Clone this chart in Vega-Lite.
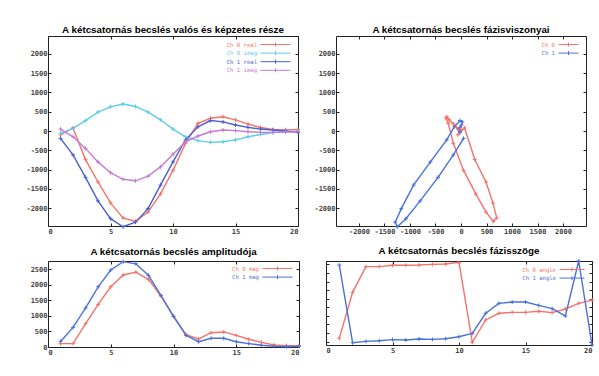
{
  "$schema": "https://vega.github.io/schema/vega-lite/v6.json",
  "padding": {"left": 25, "top": 24, "right": 5, "bottom": 5},
  "background": "white",
  "datasets": {
    "ri": [
      {"i": 1, "ch": "Ch 0", "part": "real", "series": "Ch 0 real", "value": -100},
      {"i": 2, "ch": "Ch 0", "part": "real", "series": "Ch 0 real", "value": 80},
      {"i": 3, "ch": "Ch 0", "part": "real", "series": "Ch 0 real", "value": -740},
      {"i": 4, "ch": "Ch 0", "part": "real", "series": "Ch 0 real", "value": -1320},
      {"i": 5, "ch": "Ch 0", "part": "real", "series": "Ch 0 real", "value": -1860},
      {"i": 6, "ch": "Ch 0", "part": "real", "series": "Ch 0 real", "value": -2250},
      {"i": 7, "ch": "Ch 0", "part": "real", "series": "Ch 0 real", "value": -2340},
      {"i": 8, "ch": "Ch 0", "part": "real", "series": "Ch 0 real", "value": -2100},
      {"i": 9, "ch": "Ch 0", "part": "real", "series": "Ch 0 real", "value": -1630},
      {"i": 10, "ch": "Ch 0", "part": "real", "series": "Ch 0 real", "value": -1020},
      {"i": 11, "ch": "Ch 0", "part": "real", "series": "Ch 0 real", "value": -320},
      {"i": 12, "ch": "Ch 0", "part": "real", "series": "Ch 0 real", "value": 200},
      {"i": 13, "ch": "Ch 0", "part": "real", "series": "Ch 0 real", "value": 330},
      {"i": 14, "ch": "Ch 0", "part": "real", "series": "Ch 0 real", "value": 370},
      {"i": 15, "ch": "Ch 0", "part": "real", "series": "Ch 0 real", "value": 290},
      {"i": 16, "ch": "Ch 0", "part": "real", "series": "Ch 0 real", "value": 180},
      {"i": 17, "ch": "Ch 0", "part": "real", "series": "Ch 0 real", "value": 90},
      {"i": 18, "ch": "Ch 0", "part": "real", "series": "Ch 0 real", "value": 40},
      {"i": 19, "ch": "Ch 0", "part": "real", "series": "Ch 0 real", "value": 30},
      {"i": 20, "ch": "Ch 0", "part": "real", "series": "Ch 0 real", "value": 40},
      {"i": 1, "ch": "Ch 0", "part": "imag", "series": "Ch 0 imag", "value": -60},
      {"i": 2, "ch": "Ch 0", "part": "imag", "series": "Ch 0 imag", "value": 70},
      {"i": 3, "ch": "Ch 0", "part": "imag", "series": "Ch 0 imag", "value": 270},
      {"i": 4, "ch": "Ch 0", "part": "imag", "series": "Ch 0 imag", "value": 490},
      {"i": 5, "ch": "Ch 0", "part": "imag", "series": "Ch 0 imag", "value": 625},
      {"i": 6, "ch": "Ch 0", "part": "imag", "series": "Ch 0 imag", "value": 700},
      {"i": 7, "ch": "Ch 0", "part": "imag", "series": "Ch 0 imag", "value": 635},
      {"i": 8, "ch": "Ch 0", "part": "imag", "series": "Ch 0 imag", "value": 490},
      {"i": 9, "ch": "Ch 0", "part": "imag", "series": "Ch 0 imag", "value": 290},
      {"i": 10, "ch": "Ch 0", "part": "imag", "series": "Ch 0 imag", "value": 50},
      {"i": 11, "ch": "Ch 0", "part": "imag", "series": "Ch 0 imag", "value": -150},
      {"i": 12, "ch": "Ch 0", "part": "imag", "series": "Ch 0 imag", "value": -250},
      {"i": 13, "ch": "Ch 0", "part": "imag", "series": "Ch 0 imag", "value": -295},
      {"i": 14, "ch": "Ch 0", "part": "imag", "series": "Ch 0 imag", "value": -280},
      {"i": 15, "ch": "Ch 0", "part": "imag", "series": "Ch 0 imag", "value": -230},
      {"i": 16, "ch": "Ch 0", "part": "imag", "series": "Ch 0 imag", "value": -150},
      {"i": 17, "ch": "Ch 0", "part": "imag", "series": "Ch 0 imag", "value": -90},
      {"i": 18, "ch": "Ch 0", "part": "imag", "series": "Ch 0 imag", "value": -40},
      {"i": 19, "ch": "Ch 0", "part": "imag", "series": "Ch 0 imag", "value": -20},
      {"i": 20, "ch": "Ch 0", "part": "imag", "series": "Ch 0 imag", "value": 0},
      {"i": 1, "ch": "Ch 1", "part": "real", "series": "Ch 1 real", "value": -190},
      {"i": 2, "ch": "Ch 1", "part": "real", "series": "Ch 1 real", "value": -620},
      {"i": 3, "ch": "Ch 1", "part": "real", "series": "Ch 1 real", "value": -1200},
      {"i": 4, "ch": "Ch 1", "part": "real", "series": "Ch 1 real", "value": -1810},
      {"i": 5, "ch": "Ch 1", "part": "real", "series": "Ch 1 real", "value": -2270},
      {"i": 6, "ch": "Ch 1", "part": "real", "series": "Ch 1 real", "value": -2480},
      {"i": 7, "ch": "Ch 1", "part": "real", "series": "Ch 1 real", "value": -2360},
      {"i": 8, "ch": "Ch 1", "part": "real", "series": "Ch 1 real", "value": -2010},
      {"i": 9, "ch": "Ch 1", "part": "real", "series": "Ch 1 real", "value": -1400},
      {"i": 10, "ch": "Ch 1", "part": "real", "series": "Ch 1 real", "value": -800},
      {"i": 11, "ch": "Ch 1", "part": "real", "series": "Ch 1 real", "value": -230},
      {"i": 12, "ch": "Ch 1", "part": "real", "series": "Ch 1 real", "value": 110},
      {"i": 13, "ch": "Ch 1", "part": "real", "series": "Ch 1 real", "value": 270},
      {"i": 14, "ch": "Ch 1", "part": "real", "series": "Ch 1 real", "value": 235},
      {"i": 15, "ch": "Ch 1", "part": "real", "series": "Ch 1 real", "value": 155},
      {"i": 16, "ch": "Ch 1", "part": "real", "series": "Ch 1 real", "value": 95},
      {"i": 17, "ch": "Ch 1", "part": "real", "series": "Ch 1 real", "value": 50},
      {"i": 18, "ch": "Ch 1", "part": "real", "series": "Ch 1 real", "value": 25},
      {"i": 19, "ch": "Ch 1", "part": "real", "series": "Ch 1 real", "value": 0},
      {"i": 20, "ch": "Ch 1", "part": "real", "series": "Ch 1 real", "value": -35},
      {"i": 1, "ch": "Ch 1", "part": "imag", "series": "Ch 1 imag", "value": 50},
      {"i": 2, "ch": "Ch 1", "part": "imag", "series": "Ch 1 imag", "value": -150},
      {"i": 3, "ch": "Ch 1", "part": "imag", "series": "Ch 1 imag", "value": -450},
      {"i": 4, "ch": "Ch 1", "part": "imag", "series": "Ch 1 imag", "value": -800},
      {"i": 5, "ch": "Ch 1", "part": "imag", "series": "Ch 1 imag", "value": -1080},
      {"i": 6, "ch": "Ch 1", "part": "imag", "series": "Ch 1 imag", "value": -1250},
      {"i": 7, "ch": "Ch 1", "part": "imag", "series": "Ch 1 imag", "value": -1290},
      {"i": 8, "ch": "Ch 1", "part": "imag", "series": "Ch 1 imag", "value": -1170},
      {"i": 9, "ch": "Ch 1", "part": "imag", "series": "Ch 1 imag", "value": -930},
      {"i": 10, "ch": "Ch 1", "part": "imag", "series": "Ch 1 imag", "value": -600},
      {"i": 11, "ch": "Ch 1", "part": "imag", "series": "Ch 1 imag", "value": -280},
      {"i": 12, "ch": "Ch 1", "part": "imag", "series": "Ch 1 imag", "value": -130},
      {"i": 13, "ch": "Ch 1", "part": "imag", "series": "Ch 1 imag", "value": -20},
      {"i": 14, "ch": "Ch 1", "part": "imag", "series": "Ch 1 imag", "value": 25},
      {"i": 15, "ch": "Ch 1", "part": "imag", "series": "Ch 1 imag", "value": 10},
      {"i": 16, "ch": "Ch 1", "part": "imag", "series": "Ch 1 imag", "value": -20},
      {"i": 17, "ch": "Ch 1", "part": "imag", "series": "Ch 1 imag", "value": -35},
      {"i": 18, "ch": "Ch 1", "part": "imag", "series": "Ch 1 imag", "value": -35},
      {"i": 19, "ch": "Ch 1", "part": "imag", "series": "Ch 1 imag", "value": -25},
      {"i": 20, "ch": "Ch 1", "part": "imag", "series": "Ch 1 imag", "value": -20}
    ],
    "mag": [
      {"i": 1, "series": "Ch 0 mag", "value": 110}, {"i": 2, "series": "Ch 0 mag", "value": 110},
      {"i": 3, "series": "Ch 0 mag", "value": 750}, {"i": 4, "series": "Ch 0 mag", "value": 1370},
      {"i": 5, "series": "Ch 0 mag", "value": 1940}, {"i": 6, "series": "Ch 0 mag", "value": 2320},
      {"i": 7, "series": "Ch 0 mag", "value": 2410}, {"i": 8, "series": "Ch 0 mag", "value": 2180},
      {"i": 9, "series": "Ch 0 mag", "value": 1640}, {"i": 10, "series": "Ch 0 mag", "value": 990},
      {"i": 11, "series": "Ch 0 mag", "value": 400}, {"i": 12, "series": "Ch 0 mag", "value": 260},
      {"i": 13, "series": "Ch 0 mag", "value": 460}, {"i": 14, "series": "Ch 0 mag", "value": 485},
      {"i": 15, "series": "Ch 0 mag", "value": 375}, {"i": 16, "series": "Ch 0 mag", "value": 250},
      {"i": 17, "series": "Ch 0 mag", "value": 150}, {"i": 18, "series": "Ch 0 mag", "value": 65},
      {"i": 19, "series": "Ch 0 mag", "value": 45}, {"i": 20, "series": "Ch 0 mag", "value": 45},
      {"i": 1, "series": "Ch 1 mag", "value": 180}, {"i": 2, "series": "Ch 1 mag", "value": 630},
      {"i": 3, "series": "Ch 1 mag", "value": 1260}, {"i": 4, "series": "Ch 1 mag", "value": 1940},
      {"i": 5, "series": "Ch 1 mag", "value": 2480}, {"i": 6, "series": "Ch 1 mag", "value": 2750},
      {"i": 7, "series": "Ch 1 mag", "value": 2680}, {"i": 8, "series": "Ch 1 mag", "value": 2310},
      {"i": 9, "series": "Ch 1 mag", "value": 1660}, {"i": 10, "series": "Ch 1 mag", "value": 990},
      {"i": 11, "series": "Ch 1 mag", "value": 375}, {"i": 12, "series": "Ch 1 mag", "value": 170},
      {"i": 13, "series": "Ch 1 mag", "value": 280}, {"i": 14, "series": "Ch 1 mag", "value": 280},
      {"i": 15, "series": "Ch 1 mag", "value": 170}, {"i": 16, "series": "Ch 1 mag", "value": 110},
      {"i": 17, "series": "Ch 1 mag", "value": 55}, {"i": 18, "series": "Ch 1 mag", "value": 25},
      {"i": 19, "series": "Ch 1 mag", "value": 10}, {"i": 20, "series": "Ch 1 mag", "value": 25}
    ],
    "ang": [
      {"i": 1, "series": "Ch 0 angle", "value": -2.64}, {"i": 2, "series": "Ch 0 angle", "value": 0.8},
      {"i": 3, "series": "Ch 0 angle", "value": 2.72}, {"i": 4, "series": "Ch 0 angle", "value": 2.72},
      {"i": 5, "series": "Ch 0 angle", "value": 2.82}, {"i": 6, "series": "Ch 0 angle", "value": 2.82},
      {"i": 7, "series": "Ch 0 angle", "value": 2.84}, {"i": 8, "series": "Ch 0 angle", "value": 2.89},
      {"i": 9, "series": "Ch 0 angle", "value": 2.92}, {"i": 10, "series": "Ch 0 angle", "value": 3.04},
      {"i": 11, "series": "Ch 0 angle", "value": -2.94}, {"i": 12, "series": "Ch 0 angle", "value": -1.27},
      {"i": 13, "series": "Ch 0 angle", "value": -0.77}, {"i": 14, "series": "Ch 0 angle", "value": -0.7},
      {"i": 15, "series": "Ch 0 angle", "value": -0.7}, {"i": 16, "series": "Ch 0 angle", "value": -0.62},
      {"i": 17, "series": "Ch 0 angle", "value": -0.72}, {"i": 18, "series": "Ch 0 angle", "value": -0.45},
      {"i": 19, "series": "Ch 0 angle", "value": -0.03}, {"i": 20, "series": "Ch 0 angle", "value": 0.22},
      {"i": 1, "series": "Ch 1 angle", "value": 2.84}, {"i": 2, "series": "Ch 1 angle", "value": -2.97},
      {"i": 3, "series": "Ch 1 angle", "value": -2.87}, {"i": 4, "series": "Ch 1 angle", "value": -2.82},
      {"i": 5, "series": "Ch 1 angle", "value": -2.74}, {"i": 6, "series": "Ch 1 angle", "value": -2.77},
      {"i": 7, "series": "Ch 1 angle", "value": -2.69}, {"i": 8, "series": "Ch 1 angle", "value": -2.72},
      {"i": 9, "series": "Ch 1 angle", "value": -2.67}, {"i": 10, "series": "Ch 1 angle", "value": -2.52},
      {"i": 11, "series": "Ch 1 angle", "value": -2.27}, {"i": 12, "series": "Ch 1 angle", "value": -0.77},
      {"i": 13, "series": "Ch 1 angle", "value": -0.03}, {"i": 14, "series": "Ch 1 angle", "value": 0.07},
      {"i": 15, "series": "Ch 1 angle", "value": 0.07}, {"i": 16, "series": "Ch 1 angle", "value": -0.18},
      {"i": 17, "series": "Ch 1 angle", "value": -0.42}, {"i": 18, "series": "Ch 1 angle", "value": -0.97},
      {"i": 19, "series": "Ch 1 angle", "value": 3.14}, {"i": 20, "series": "Ch 1 angle", "value": -3.14}
    ]
  },
  "resolve": {"scale": {"color": "independent"}},
  "spacing": 10,
  "vconcat": [
    {
      "spacing": 10,
      "resolve": {"scale": {"color": "independent"}},
      "hconcat": [
        {
          "title": "A kétcsatornás becslés valós és képzetes része",
          "width": 250, "height": 190,
          "data": {"name": "ri"},
          "resolve": {"axis": {"x": "independent", "y": "independent"}},
          "layer": [
            {
              "mark": {"type": "line", "strokeWidth": 1.4, "point": {"shape": "M-1,0H1M0,-1V1", "filled": false, "size": 16, "strokeWidth": 1}},
              "encoding": {
                "x": {"field": "i", "type": "quantitative", "title": null, "scale": {"domain": [0, 20], "nice": false}, "axis": {"values": [0, 5, 10, 15, 20]}},
                "y": {"field": "value", "type": "quantitative", "title": null, "scale": {"domain": [-2460, 2460], "nice": false}, "axis": {"values": [-2000, -1500, -1000, -500, 0, 500, 1000, 1500, 2000], "labelExpr": "'' + datum.value"}},
                "color": {"field": "series", "type": "nominal", "scale": {"domain": ["Ch 0 real", "Ch 0 imag", "Ch 1 real", "Ch 1 imag"], "range": ["#f4736b", "#5ccde8", "#4a5fd6", "#c77ad6"]},
                  "legend": {"orient": "top-right", "title": null, "offset": 5, "padding": 0, "rowPadding": -0.4, "symbolType": "M-1,0H9M4,-0.67V0.67", "symbolSize": 36, "symbolStrokeWidth": 1, "labelAlign": "right", "labelOffset": -10, "labelFont": "DejaVu Sans Mono", "labelFontSize": 5.6,
                    "encode": {"labels": {"update": {"fill": {"signal": "datum.value === 'Ch 0 real' ? '#f4736b' : datum.value === 'Ch 0 imag' ? '#5ccde8' : datum.value === 'Ch 1 real' ? '#4a5fd6' : '#c77ad6'"}}}}}}
              }
            },
            {
              "mark": {"type": "line", "opacity": 0},
              "encoding": {
                "x": {"field": "i", "type": "quantitative", "title": null, "axis": {"orient": "top", "labels": false, "values": [0, 5, 10, 15, 20]}},
                "y": {"field": "value", "type": "quantitative", "title": null, "axis": {"orient": "right", "labels": false, "values": [-2000, -1500, -1000, -500, 0, 500, 1000, 1500, 2000]}},
                "detail": {"field": "series"}
              }
            }
          ]
        },
        {
          "title": "A kétcsatornás becslés fázisviszonyai",
          "width": 250, "height": 190,
          "data": {"name": "ri"},
          "transform": [{"pivot": "part", "value": "value", "groupby": ["ch", "i"]}],
          "resolve": {"axis": {"x": "independent", "y": "independent"}},
          "layer": [
            {
              "mark": {"type": "line", "strokeWidth": 1.4, "point": {"shape": "M-1,0H1M0,-1V1", "filled": false, "size": 16, "strokeWidth": 1}},
              "encoding": {
                "x": {"field": "imag", "type": "quantitative", "title": null, "scale": {"domain": [-2450, 2450], "nice": false}, "axis": {"values": [-2000, -1500, -1000, -500, 0, 500, 1000, 1500, 2000], "labelExpr": "'' + datum.value"}},
                "y": {"field": "real", "type": "quantitative", "title": null, "scale": {"domain": [-2460, 2460], "nice": false}, "axis": {"values": [-2000, -1500, -1000, -500, 0, 500, 1000, 1500, 2000], "labelExpr": "'' + datum.value"}},
                "order": {"field": "i", "type": "quantitative"},
                "color": {"field": "ch", "type": "nominal", "scale": {"domain": ["Ch 0", "Ch 1"], "range": ["#f4736b", "#4a72dc"]},
                  "legend": {"orient": "top-right", "title": null, "offset": 5, "padding": 0, "rowPadding": -0.4, "symbolType": "M-1,0H5.67M2.33,-0.67V0.67", "symbolSize": 36, "symbolStrokeWidth": 1, "labelAlign": "right", "labelOffset": -10, "labelFont": "DejaVu Sans Mono", "labelFontSize": 5.6,
                    "encode": {"labels": {"update": {"fill": {"signal": "datum.value === 'Ch 0' ? '#f4736b' : '#4a72dc'"}}}}}}
              }
            },
            {
              "mark": {"type": "line", "opacity": 0},
              "encoding": {
                "x": {"field": "imag", "type": "quantitative", "title": null, "axis": {"orient": "top", "labels": false, "values": [-2000, -1500, -1000, -500, 0, 500, 1000, 1500, 2000]}},
                "y": {"field": "real", "type": "quantitative", "title": null, "axis": {"orient": "right", "labels": false, "values": [-2000, -1500, -1000, -500, 0, 500, 1000, 1500, 2000]}},
                "detail": {"field": "ch"}
              }
            }
          ]
        }
      ]
    },
    {
      "spacing": 21,
      "resolve": {"scale": {"color": "independent"}},
      "hconcat": [
        {
          "title": "A kétcsatornás becslés amplitudója",
          "width": 251, "height": 86,
          "data": {"name": "mag"},
          "resolve": {"axis": {"x": "independent", "y": "independent"}},
          "layer": [
            {
              "mark": {"type": "line", "strokeWidth": 1.4, "point": {"shape": "M-1,0H1M0,-1V1", "filled": false, "size": 16, "strokeWidth": 1}},
              "encoding": {
                "x": {"field": "i", "type": "quantitative", "title": null, "scale": {"domain": [0, 20], "nice": false}, "axis": {"values": [0, 5, 10, 15, 20]}},
                "y": {"field": "value", "type": "quantitative", "title": null, "scale": {"domain": [0, 2770], "nice": false}, "axis": {"values": [0, 500, 1000, 1500, 2000, 2500], "labelExpr": "'' + datum.value"}},
                "color": {"field": "series", "type": "nominal", "scale": {"domain": ["Ch 0 mag", "Ch 1 mag"], "range": ["#f4736b", "#4a72dc"]},
                  "legend": {"orient": "top-right", "title": null, "offset": 4, "padding": 0, "rowPadding": -0.4, "symbolType": "M-1,0H9M4,-0.67V0.67", "symbolSize": 36, "symbolStrokeWidth": 1, "labelAlign": "right", "labelOffset": -10, "labelFont": "DejaVu Sans Mono", "labelFontSize": 5.6,
                    "encode": {"labels": {"update": {"fill": {"signal": "datum.value === 'Ch 0 mag' ? '#f4736b' : '#4a72dc'"}}}}}}
              }
            },
            {
              "mark": {"type": "line", "opacity": 0},
              "encoding": {
                "x": {"field": "i", "type": "quantitative", "title": null, "axis": {"orient": "top", "labels": false, "values": [0, 5, 10, 15, 20]}},
                "y": {"field": "value", "type": "quantitative", "title": null, "axis": {"orient": "right", "labels": false, "values": [0, 500, 1000, 1500, 2000, 2500]}},
                "detail": {"field": "series"}
              }
            }
          ]
        },
        {
          "title": "A kétcsatornás becslés fázisszöge",
          "width": 266, "height": 84,
          "data": {"name": "ang"},
          "resolve": {"axis": {"x": "independent", "y": "independent"}},
          "layer": [
            {
              "mark": {"type": "line", "strokeWidth": 1.4, "point": {"shape": "M-1,0H1M0,-1V1", "filled": false, "size": 16, "strokeWidth": 1}},
              "encoding": {
                "x": {"field": "i", "type": "quantitative", "title": null, "scale": {"domain": [0, 20], "nice": false}, "axis": {"values": [0, 5, 10, 15, 20]}},
                "y": {"field": "value", "type": "quantitative", "title": null, "scale": {"domain": [-3.1416, 3.1416], "nice": false}, "axis": {"values": [-2.88, -2.24, -1.6, -0.96, -0.32, 0.32, 0.96, 1.6, 2.24, 2.88], "labels": false}},
                "color": {"field": "series", "type": "nominal", "scale": {"domain": ["Ch 0 angle", "Ch 1 angle"], "range": ["#f4736b", "#4a72dc"]},
                  "legend": {"orient": "top-right", "title": null, "offset": 5, "padding": 0, "rowPadding": -0.4, "symbolType": "M-1,0H7.33M3.17,-0.67V0.67", "symbolSize": 36, "symbolStrokeWidth": 1, "labelAlign": "right", "labelOffset": -10, "labelFont": "DejaVu Sans Mono", "labelFontSize": 5.6,
                    "encode": {"labels": {"update": {"fill": {"signal": "datum.value === 'Ch 0 angle' ? '#f4736b' : '#4a72dc'"}}}}}}
              }
            },
            {
              "mark": {"type": "line", "opacity": 0},
              "encoding": {
                "x": {"field": "i", "type": "quantitative", "title": null, "axis": {"orient": "top", "labels": false, "values": [0, 5, 10, 15, 20]}},
                "y": {"field": "value", "type": "quantitative", "title": null, "axis": {"orient": "right", "labels": false, "values": [-2.88, -2.24, -1.6, -0.96, -0.32, 0.32, 0.96, 1.6, 2.24, 2.88]}},
                "detail": {"field": "series"}
              }
            }
          ]
        }
      ]
    }
  ],
  "config": {
    "view": {"stroke": "#222", "strokeWidth": 1},
    "axis": {"domain": false, "grid": false, "labelFont": "DejaVu Sans Mono", "labelFontSize": 7, "labelFontWeight": "bold", "labelColor": "#444", "tickColor": "#222", "tickSize": -3, "labelPadding": 4},
    "title": {"font": "Liberation Sans", "fontSize": 9.8, "fontWeight": "bold", "color": "#000", "offset": 1, "baseline": "alphabetic"}
  }
}
